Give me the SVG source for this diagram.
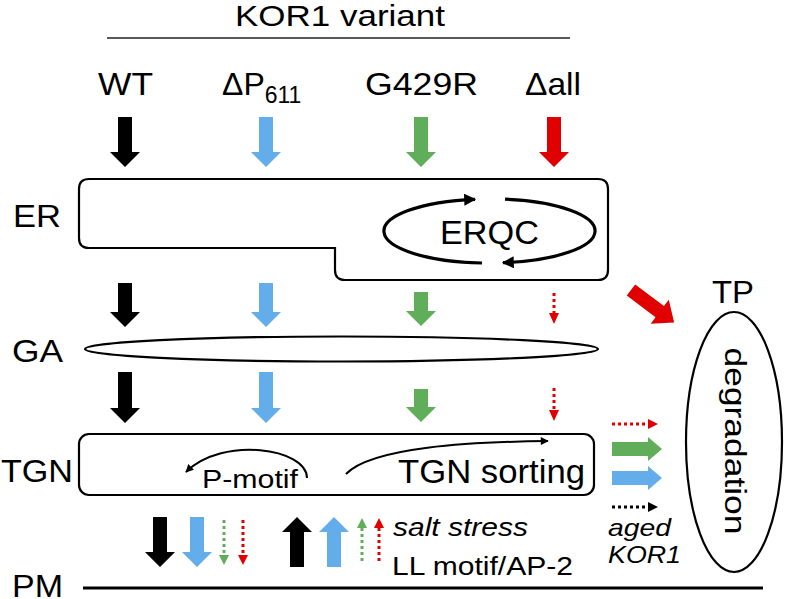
<svg xmlns="http://www.w3.org/2000/svg" width="785" height="599" viewBox="0 0 785 599">
<style>
text{font-family:"Liberation Sans",Arial,sans-serif;fill:#000}
.lbl{font-size:32px}
.ol{fill:none;stroke:#000;stroke-width:2.2}
.k{fill:#000}.b{fill:#63AEEA}.g{fill:#60AD5A}.r{fill:#E00000}
.dk{stroke:#000;stroke-width:3;stroke-dasharray:3 3;fill:none}
.dg{stroke:#60AD5A;stroke-width:3;stroke-dasharray:3 3;fill:none}
.dr{stroke:#E00000;stroke-width:3;stroke-dasharray:3 3;fill:none}
.it{font-style:italic}
</style>
<defs>
<marker id="ah" viewBox="0 0 10 10" refX="9" refY="5" markerUnits="userSpaceOnUse" markerWidth="14" markerHeight="12" orient="auto"><path d="M0,0 L10,5 L0,10 z" fill="#000"/></marker>
<marker id="ahs" viewBox="0 0 10 10" refX="9" refY="5" markerUnits="userSpaceOnUse" markerWidth="9" markerHeight="8" orient="auto"><path d="M0,0 L10,5 L0,10 z" fill="#000"/></marker>
</defs>

<g id="title">
<text x="235" y="26" font-size="30" textLength="210" lengthAdjust="spacingAndGlyphs">KOR1 variant</text>
<line x1="107" y1="38" x2="570" y2="38" stroke="#222" stroke-width="1.3"/>
</g>

<g id="variants" class="lbl">
<text x="98" y="95" textLength="55" lengthAdjust="spacingAndGlyphs">WT</text>
<text x="222" y="95">ΔP<tspan font-size="23" dy="8">611</tspan></text>
<text x="365" y="95" textLength="113" lengthAdjust="spacingAndGlyphs">G429R</text>
<text x="525" y="95" textLength="56" lengthAdjust="spacingAndGlyphs">Δall</text>
</g>

<g id="ER">
<path class="ol" d="M89,179 H598 Q608,179 608,189 V270 Q608,280 598,280 H345 Q335,280 335,270 V248 H89 Q79,248 79,238 V189 Q79,179 89,179 Z"/>
<text class="lbl" x="13" y="227" textLength="48" lengthAdjust="spacingAndGlyphs">ER</text>
</g>

<g id="ERQC">
<path d="M482,263 A104 32 0 0 1 475,199.3" fill="none" stroke="#000" stroke-width="3.2" marker-end="url(#ah)"/>
<path d="M505,199.2 A104 32 0 0 1 503,262.7" fill="none" stroke="#000" stroke-width="3.2" marker-end="url(#ah)"/>
<text x="440" y="244" font-size="33" textLength="99" lengthAdjust="spacingAndGlyphs">ERQC</text>
</g>

<g id="GA">
<ellipse class="ol" cx="341.5" cy="349" rx="256.5" ry="12.5"/>
<text class="lbl" x="12" y="362" textLength="51" lengthAdjust="spacingAndGlyphs">GA</text>
</g>

<g id="TGN">
<rect class="ol" x="79" y="434" width="515" height="61" rx="10"/>
<text class="lbl" x="1" y="482" textLength="72" lengthAdjust="spacingAndGlyphs">TGN</text>
<path d="M307,478 C307,448 222,436 186,472" fill="none" stroke="#000" stroke-width="2" marker-end="url(#ahs)"/>
<text x="202" y="488" font-size="26" textLength="96" lengthAdjust="spacingAndGlyphs">P-motif</text>
<path d="M346,474 C372,447 470,442 548,441" fill="none" stroke="#000" stroke-width="2" marker-end="url(#ahs)"/>
<text x="398" y="483" font-size="34" textLength="187" lengthAdjust="spacingAndGlyphs">TGN sorting</text>
</g>

<g id="PM">
<line x1="83" y1="588" x2="763" y2="588" stroke="#000" stroke-width="3"/>
<text class="lbl" x="12" y="597" textLength="51" lengthAdjust="spacingAndGlyphs">PM</text>
</g>

<g id="TP">
<ellipse class="ol" cx="734" cy="442" rx="48" ry="130"/>
<text class="lbl" x="712" y="303" textLength="42" lengthAdjust="spacingAndGlyphs">TP</text>
<text transform="translate(725,441) rotate(90)" x="0" y="0" font-size="29" text-anchor="middle" textLength="187" lengthAdjust="spacingAndGlyphs">degradation</text>
</g>

<g id="notes">
<text class="it" x="393" y="536" font-size="26" textLength="135" lengthAdjust="spacingAndGlyphs">salt stress</text>
<text x="392" y="575" font-size="26" textLength="181" lengthAdjust="spacingAndGlyphs">LL motif/AP-2</text>
<text class="it" x="608" y="536" font-size="24" textLength="63" lengthAdjust="spacingAndGlyphs">aged</text>
<text class="it" x="608" y="563" font-size="24" textLength="73" lengthAdjust="spacingAndGlyphs">KOR1</text>
</g>

<g id="connectors">
<polygon class="k" points="118,117 132,117 132,152 140,152 125,167 110,152 118,152"/>
<polygon class="b" points="259,117 273,117 273,152 281,152 266,167 251,152 259,152"/>
<polygon class="g" points="414,117 428,117 428,152 436,152 421,167 406,152 414,152"/>
<polygon class="r" points="547,117 561,117 561,152 569,152 554,167 539,152 547,152"/>
<polygon class="k" points="118,283 132,283 132,312 140,312 125,327 110,312 118,312"/>
<polygon class="b" points="259,283 273,283 273,312 281,312 266,327 251,312 259,312"/>
<polygon class="g" points="414,292 428,292 428,311 436,311 421,326 406,311 414,311"/>
<line class="dr" x1="554" y1="293" x2="554" y2="313"/>
<polygon class="r" points="549,313 559,313 554,324"/>
<polygon class="k" points="118,372 132,372 132,408 140,408 125,423 110,408 118,408"/>
<polygon class="b" points="259,372 273,372 273,408 281,408 266,423 251,408 259,408"/>
<polygon class="g" points="414,389 428,389 428,407 436,407 421,422 406,407 414,407"/>
<line class="dr" x1="554" y1="388" x2="554" y2="410"/>
<polygon class="r" points="549,410 559,410 554,421"/>
<polygon class="k" points="153,517 167,517 167,552 175,552 160,567 145,552 153,552"/>
<polygon class="b" points="190,517 204,517 204,552 212,552 197,567 182,552 190,552"/>
<line class="dg" x1="224" y1="520" x2="224" y2="555"/>
<polygon class="g" points="219,555 229,555 224,565"/>
<line class="dr" x1="243" y1="520" x2="243" y2="555"/>
<polygon class="r" points="238,555 248,555 243,565"/>
<polygon class="k" points="297,517 312,532 304,532 304,567 290,567 290,532 282,532"/>
<polygon class="b" points="334,517 349,532 341,532 341,567 327,567 327,532 319,532"/>
<polygon class="g" points="362,518 367,528 357,528"/>
<line class="dg" x1="362" y1="528" x2="362" y2="564"/>
<polygon class="r" points="379,518 384,528 374,528"/>
<line class="dr" x1="379" y1="528" x2="379" y2="564"/>
<polygon class="r" transform="translate(631,290) rotate(37)" points="0,-7 36,-7 36,-15 54,0 36,15 36,7 0,7"/>
<line class="dr" x1="612" y1="424" x2="648" y2="424"/>
<polygon class="r" points="648,419 658,424 648,429"/>
<polygon class="g" points="612,442 648,442 648,437 662,449 648,461 648,456 612,456"/>
<polygon class="b" points="612,471 648,471 648,466 662,478 648,490 648,485 612,485"/>
<line class="dk" x1="612" y1="507" x2="648" y2="507"/>
<polygon class="k" points="648,502 658,507 648,512"/>
</g>
</svg>
